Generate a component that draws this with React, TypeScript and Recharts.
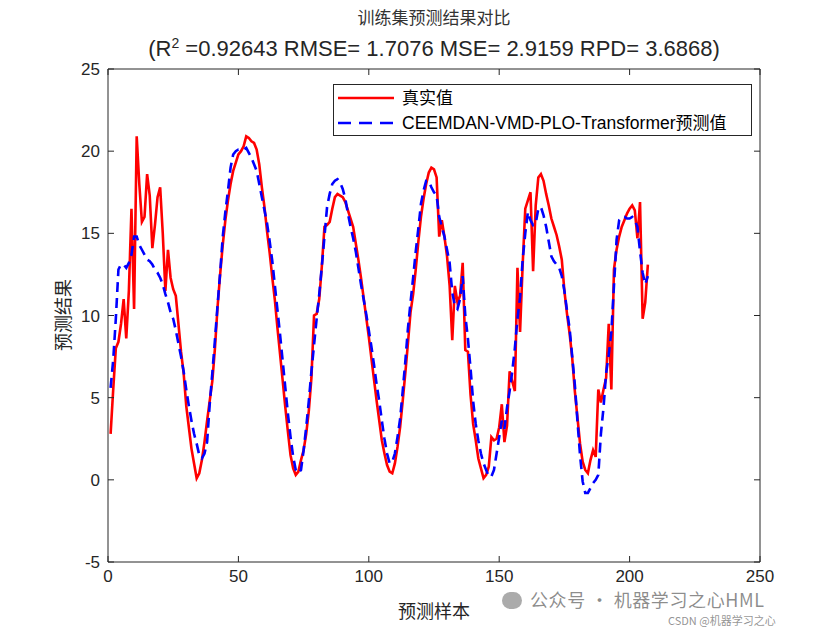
// Training-set comparison: actual vs CEEMDAN-VMD-PLO-Transformer prediction,
// drawn in the MATLAB look (boxed axes, inward ticks, legend top-right).

import { Line, LineChart, XAxis, YAxis } from "recharts";

const TITLE = "训练集预测结果对比";
const METRICS = { r2: "0.92643", rmse: "1.7076", mse: "2.9159", rpd: "3.6868" };
const X_LABEL = "预测样本";
const Y_LABEL = "预测结果";
const SERIES_ACTUAL = "真实值";
const SERIES_PRED = "CEEMDAN-VMD-PLO-Transformer预测值";

const X_TICKS = [0, 50, 100, 150, 200, 250];
const Y_TICKS = [-5, 0, 5, 10, 15, 20, 25];

// samples 1..207
const ACTUAL = [
  2.8, 5.5, 8.0, 8.4, 9.5, 11.0, 8.6, 11.5, 16.5, 10.4,
  20.9, 18.0, 15.7, 16.0, 18.6, 17.3, 14.1, 15.5, 17.2, 17.8,
  15.0, 11.5, 14.0, 12.3, 11.6, 11.2, 9.5, 7.8, 6.5, 4.5,
  3.2, 1.9, 1.0, 0.1, 0.4, 1.2, 2.3, 3.6, 4.8, 6.0,
  8.0, 10.5, 12.5, 14.3, 15.8, 17.0, 18.0, 18.8, 19.3, 19.8,
  20.0, 20.3, 20.9, 20.8, 20.6, 20.5, 20.1, 19.2, 17.8, 16.6,
  15.1, 13.8, 12.3, 10.9, 9.2, 7.6, 6.0, 4.4, 2.9, 1.5,
  0.7, 0.3, 0.5, 1.2, 1.8, 2.8, 4.2, 6.2, 10.0, 10.1,
  11.0, 13.0, 15.4, 15.5, 15.7, 16.5, 17.2, 17.4, 17.3, 17.2,
  16.9, 16.4, 15.9, 15.4, 14.4, 13.4, 12.3, 11.1, 9.9, 8.7,
  7.4, 6.1, 4.8, 3.6, 2.4, 1.6, 0.9, 0.5, 0.4, 1.0,
  2.0, 3.2, 4.8, 6.5, 8.3, 10.2, 11.3, 12.8, 14.5, 16.0,
  17.1, 18.0, 18.7, 19.0, 18.9, 18.4, 14.8, 15.8, 14.8, 13.6,
  11.8, 8.5, 11.8, 10.8, 11.2, 13.2, 7.9, 7.8, 5.2, 3.4,
  2.4, 1.3, 0.7, 0.1, 0.3, 0.8, 2.6, 2.4, 2.5, 3.2,
  4.6, 2.3, 3.3, 6.6, 6.0, 5.4, 12.9, 9.0, 13.1, 16.5,
  17.0, 17.5, 12.7, 16.7, 18.4, 18.6, 18.2, 17.4, 16.7, 15.9,
  15.4, 14.9, 14.2, 13.4, 11.5, 10.1, 8.9, 7.4, 5.4, 3.8,
  2.2, 1.1, 0.6, 0.4, 1.2, 1.8, 1.4, 5.5, 4.7, 5.5,
  6.2, 9.5, 5.5, 12.8, 14.0, 14.8, 15.4, 15.8, 16.2, 16.5,
  16.7, 16.4, 14.7, 16.9, 9.8, 10.8, 13.1,
];

const PREDICTED = [
  5.6, 7.3, 9.8, 12.8, 13.1, 13.1, 12.9, 13.2, 13.7, 14.8,
  14.8, 14.3, 14.0, 13.7, 13.4, 13.3, 13.1, 12.8, 12.6, 12.3,
  11.9, 11.3, 10.8, 10.2, 9.8, 9.1, 8.3, 7.5, 6.6, 5.5,
  4.5, 3.6, 2.8, 2.2, 1.5, 1.3, 1.6, 2.3, 4.6, 6.5,
  8.5, 10.6, 12.6, 14.8, 16.3, 17.6, 19.0, 19.8, 20.0, 20.1,
  20.1, 20.1, 20.2, 19.9, 19.6, 19.2, 18.8, 18.0, 17.2, 16.4,
  15.6, 14.5, 13.3, 11.8, 10.3, 8.8, 7.2, 5.6, 4.0, 2.6,
  1.4, 0.6, 0.4, 0.6, 1.8, 3.2, 4.8, 6.6, 8.2, 9.8,
  11.3, 13.0, 14.8, 16.6, 17.4, 18.0, 18.2, 18.3, 18.1, 17.7,
  17.1, 16.2, 15.4, 14.7, 13.9, 12.9, 11.9, 11.0, 10.1, 9.1,
  8.1, 7.0, 5.8, 4.8, 3.6, 2.5, 1.6, 1.0, 1.1, 1.6,
  2.6, 3.7, 5.4, 7.2, 9.2, 10.8, 12.3, 13.9, 15.3, 16.8,
  17.6, 18.2, 18.2, 17.8, 17.5, 17.3, 16.0, 15.4, 14.8, 14.0,
  13.2, 11.4, 10.6, 10.4, 11.0, 12.4, 10.0, 8.6, 6.8, 4.8,
  3.4, 2.4, 1.6, 1.0, 0.6, 0.2, 0.2, 0.6, 1.6, 2.6,
  3.6, 3.1, 4.4, 5.4, 6.6, 8.0, 9.8, 11.1, 13.4, 15.0,
  16.3, 15.8, 15.5, 15.6, 16.5, 16.6, 16.1, 15.4, 14.5, 13.6,
  13.3, 13.1, 12.9, 12.4, 11.5, 10.3, 9.2, 7.5, 5.8, 3.6,
  1.5, -0.1, -0.8, -0.8, -0.5, -0.2, 0.0, 0.3, 2.8, 4.4,
  6.5, 7.6, 9.0, 11.8, 14.6, 15.8, 16.0, 16.0, 15.9, 15.9,
  16.0, 15.8, 15.4, 13.9, 12.6, 11.9, 12.4,
];

const INK = "#262626";
const LATIN = '"Liberation Sans", Arial, sans-serif';
const CJK = '"Noto Sans CJK SC", "Liberation Sans", sans-serif';
const TICK_LEN = 6;
const DASH = "10 6";

// tickSize/tickMargin are 0 so x/y arrive on the axis line itself
function BottomTick({ x, y, payload }: any) {
  return (
    <g>
      <line x1={x} y1={y} x2={x} y2={y - TICK_LEN} stroke={INK} />
      <text x={x} y={y + 20} textAnchor="middle" fontSize={17} fontFamily={LATIN} fill={INK}>
        {payload.value}
      </text>
    </g>
  );
}

function TopTick({ x, y }: any) {
  return <line x1={x} y1={y} x2={x} y2={y + TICK_LEN} stroke={INK} />;
}

function LeftTick({ x, y, payload }: any) {
  return (
    <g>
      <line x1={x} y1={y} x2={x + TICK_LEN} y2={y} stroke={INK} />
      <text x={x - 8} y={y + 6} textAnchor="end" fontSize={17} fontFamily={LATIN} fill={INK}>
        {payload.value}
      </text>
    </g>
  );
}

function RightTick({ x, y }: any) {
  return <line x1={x} y1={y} x2={x - TICK_LEN} y2={y} stroke={INK} />;
}

export default function App() {
  const data = ACTUAL.map((v, i) => ({ idx: i + 1, actual: v, predicted: PREDICTED[i] }));

  return (
    <div style={{ position: "relative", width: 840, height: 630, background: "#fff" }}>
      <style>{"body{margin:0}"}</style>
      <LineChart
        width={840}
        height={630}
        data={data}
        margin={{ top: 68, right: 79, bottom: 38, left: 52 }}
      >
        <XAxis
          dataKey="idx"
          type="number"
          domain={[0, 250]}
          ticks={X_TICKS}
          height={30}
          tickSize={0}
          tickMargin={0}
          stroke={INK}
          tick={<BottomTick />}
        />
        {/* top/right copies close the MATLAB box; same domains as bottom/left */}
        <XAxis
          xAxisId="top"
          orientation="top"
          dataKey="idx"
          type="number"
          domain={[0, 250]}
          ticks={X_TICKS}
          height={1}
          tickSize={0}
          tickMargin={0}
          stroke={INK}
          tick={<TopTick />}
        />
        <YAxis
          type="number"
          domain={[-5, 25]}
          ticks={Y_TICKS}
          width={56}
          tickSize={0}
          tickMargin={0}
          stroke={INK}
          tick={<LeftTick />}
        />
        <YAxis
          yAxisId="right"
          orientation="right"
          type="number"
          domain={[-5, 25]}
          ticks={Y_TICKS}
          width={1}
          tickSize={0}
          tickMargin={0}
          stroke={INK}
          tick={<RightTick />}
        />
        <Line
          isAnimationActive={false}
          type="linear"
          dataKey="actual"
          stroke="#ff0000"
          strokeWidth={2.6}
          dot={false}
        />
        <Line
          isAnimationActive={false}
          xAxisId="top"
          yAxisId="right"
          type="linear"
          dataKey="predicted"
          stroke="#0000ff"
          strokeWidth={2.6}
          strokeDasharray={DASH}
          dot={false}
        />
      </LineChart>

      {/* titles and axis labels */}
      <div
        style={{
          position: "absolute", left: 134, width: 600, top: 4, textAlign: "center",
          fontFamily: CJK, fontSize: 17, color: "#333",
        }}
      >
        {TITLE}
      </div>
      <div
        style={{
          position: "absolute", left: 84, width: 700, top: 35, textAlign: "center",
          fontFamily: LATIN, fontSize: 22, color: INK, whiteSpace: "nowrap",
        }}
      >
        (R<sup style={{ fontSize: 14 }}>2</sup> ={METRICS.r2} RMSE= {METRICS.rmse} MSE= {METRICS.mse} RPD= {METRICS.rpd})
      </div>
      <div
        style={{
          position: "absolute", left: 334, width: 200, top: 597, textAlign: "center",
          fontFamily: CJK, fontSize: 18, color: INK,
        }}
      >
        {X_LABEL}
      </div>
      <div
        style={{
          position: "absolute", left: 62, top: 315, transform: "translate(-50%, -50%) rotate(-90deg)",
          fontFamily: CJK, fontSize: 18, color: INK, whiteSpace: "nowrap",
        }}
      >
        {Y_LABEL}
      </div>

      {/* legend */}
      <div
        style={{
          position: "absolute", left: 333, top: 84, width: 417, height: 50,
          border: `1px solid ${INK}`, background: "#fff", color: "#000",
        }}
      >
        <svg width={60} height={50} style={{ position: "absolute", left: 4, top: 0 }}>
          <line x1={0} y1={13} x2={56} y2={13} stroke="#ff0000" strokeWidth={2.6} />
          <line x1={0} y1={38} x2={56} y2={38} stroke="#0000ff" strokeWidth={2.6} strokeDasharray="13 8" />
        </svg>
        <div style={{ position: "absolute", left: 68, top: 2, fontFamily: CJK, fontSize: 17, lineHeight: "20px" }}>
          {SERIES_ACTUAL}
        </div>
        <div
          style={{
            position: "absolute", left: 68, top: 27, fontFamily: LATIN, fontSize: 17.5,
            lineHeight: "20px", whiteSpace: "nowrap",
          }}
        >
          {SERIES_PRED.replace("预测值", "")}
          <span style={{ fontFamily: CJK, fontSize: 17 }}>预测值</span>
        </div>
      </div>

      {/* watermark */}
      <div
        style={{
          position: "absolute", left: 502, top: 590, fontFamily: CJK, fontSize: 18,
          lineHeight: "18px", color: "rgba(90,90,90,0.7)", whiteSpace: "nowrap",
          letterSpacing: 0.6,
        }}
      >
        <span
          style={{
            display: "inline-block", width: 20, height: 17, borderRadius: 9,
            background: "rgba(150,150,150,0.8)", marginRight: 8, verticalAlign: "-2px",
          }}
        />
        公众号 · 机器学习之心HML
      </div>
      <div
        style={{
          position: "absolute", left: 668, top: 614, fontFamily: CJK, fontSize: 11,
          lineHeight: "12px", color: "rgba(120,120,120,0.8)", whiteSpace: "nowrap",
        }}
      >
        CSDN @机器学习之心
      </div>
    </div>
  );
}
